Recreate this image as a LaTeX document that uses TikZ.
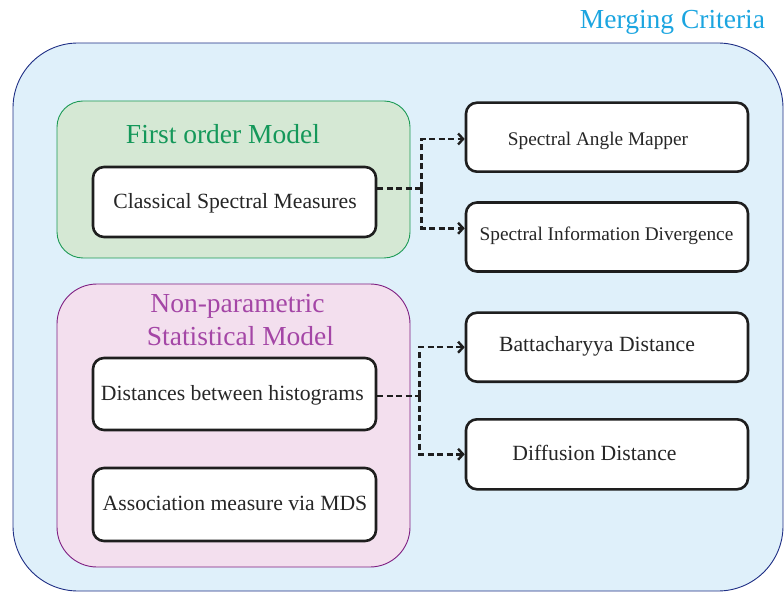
\documentclass[tikz,border=0pt]{standalone}
\usepackage{fontspec}
\setmainfont{Liberation Serif}
\usetikzlibrary{arrows.meta}
\definecolor{outerfill}{HTML}{DFF0FA}
\definecolor{outerdraw}{HTML}{1F2F85}
\definecolor{greenfill}{HTML}{D5E8D4}
\definecolor{greendraw}{HTML}{1C9A55}
\definecolor{greentext}{HTML}{14985A}
\definecolor{pinkfill}{HTML}{F3DFEE}
\definecolor{pinkdraw}{HTML}{7F1F82}
\definecolor{pinktext}{HTML}{A446A6}
\definecolor{cyantext}{HTML}{1BA5E0}
\definecolor{boxdraw}{HTML}{1E1E1E}
\begin{document}
\begin{tikzpicture}[x=1pt,y=-1pt,
  container/.style={inner sep=0pt, line width=0.9pt},
  wbox/.style={draw=boxdraw, line width=2.6pt, fill=white, rounded corners=11pt, minimum width=283pt, inner sep=0pt},
  rbox/.style={wbox, minimum width=282pt},
  txt/.style={font=\fontsize{21.7}{26}\selectfont, text=black!85, inner sep=0pt, anchor=base},
  stxt/.style={txt, font=\fontsize{19.3}{23}\selectfont},
  title/.style={font=\fontsize{27.5}{32}\selectfont, inner sep=0pt, anchor=base},
  conn/.style={draw=boxdraw, line width=2.6pt, dash pattern=on 6pt off 3.5pt},
  tip/.style={-{Straight Barb[length=5pt,width=11pt,line width=2.4pt]}}
]
\useasboundingbox (0,0) rectangle (784,593);
% outer container
\node[container, draw=outerdraw, fill=outerfill, rounded corners=65pt,
  minimum width=770pt, minimum height=548pt] (outer) at (398,317) {};
\node[title, text=cyantext] (mc) at (672.5,28.3) {Merging Criteria};
% green container
\node[container, draw=greendraw, fill=greenfill, rounded corners=26pt,
  minimum width=353pt, minimum height=157pt] (green) at (233.5,179.5) {};
\node[title, text=greentext] (fom) at (223,143.3) {First order Model};
% pink container
\node[container, draw=pinkdraw, fill=pinkfill, rounded corners=40pt,
  minimum width=353pt, minimum height=283pt] (pink) at (233.5,425.5) {};
\node[title, text=pinktext] (np1) at (237.5,312.3) {Non-parametric};
\node[title, text=pinktext] (np2) at (240.5,345) {Statistical Model};
% left boxes
\node[wbox, minimum height=70pt] (csm) at (234.5,202) {};
\node[txt] (csmt) at (235,209) {Classical Spectral Measures};
\node[wbox, minimum height=72pt] (dbh) at (234.5,394) {};
\node[txt] (dbht) at (232.3,400) {Distances between histograms};
\node[wbox, minimum height=73pt] (amds) at (234.5,504.5) {};
\node[txt] (amdst) at (235,510.7) {Association measure via MDS};
% right boxes
\node[rbox, minimum height=69pt] (sam) at (607,137.2) {};
\node[stxt] (samt) at (598,145.5) {Spectral Angle Mapper};
\node[rbox, minimum height=69pt] (sid) at (607,237) {};
\node[stxt] (sidt) at (606.5,240.5) {Spectral Information Divergence};
\node[rbox, minimum height=69pt] (batt) at (607,347.2) {};
\node[txt] (battt) at (597,352) {Battacharyya Distance};
\node[rbox, minimum height=70pt] (diff) at (607,454.3) {};
\node[txt] (difft) at (594.5,460.7) {Diffusion Distance};
% connectors
\coordinate (j1) at (421.5,188.3);
\coordinate (j2) at (419.3,396);
\draw[conn] (csm.east |- j1) -- (j1);
\draw[conn, tip] (j1) |- ([yshift=-1.8pt]sam.west);
\draw[conn, tip] (j1) |- ([yshift=8.7pt]sid.west);
\draw[conn] (dbh.east |- j2) -- (j2);
\draw[conn, tip] (j2) |- (batt.west);
\draw[conn, tip] (j2) |- (diff.west);
\end{tikzpicture}
\end{document}
